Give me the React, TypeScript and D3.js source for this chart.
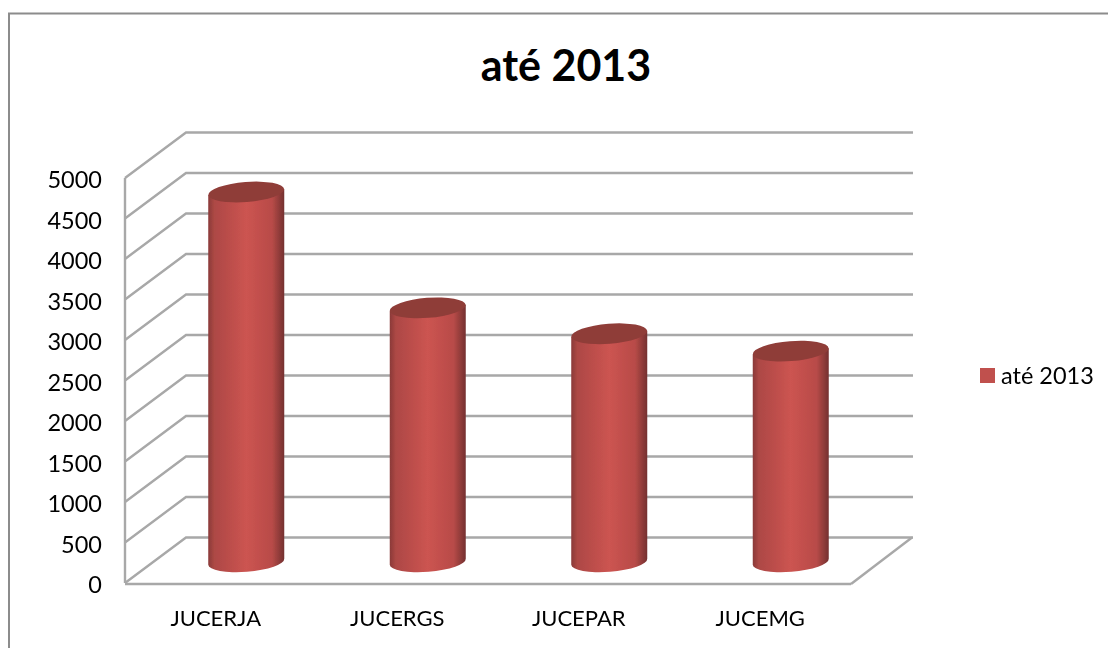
import React from "react";
import * as d3 from "d3";

const categories = ["JUCERJA", "JUCERGS", "JUCEPAR", "JUCEMG"];
const values = [4565, 3135, 2815, 2600];
const yTicks = [0, 500, 1000, 1500, 2000, 2500, 3000, 3500, 4000, 4500, 5000];
const seriesName = "até 2013";

const width = 1108;
const height = 648;

// front face of the 3D box, the back wall is offset by depth
const x0 = 125;
const x1 = 851;
const yBottom = 583;
const yTop = 178;
const depthX = 61;
const depthY = -45.5;

const xScale = d3.scaleBand<string>().domain(categories).range([x0, x1]);
const yFront = d3.scaleLinear().domain([0, 5000]).range([yBottom, yTop]);

const barWidth = 76;
const tilt = 6; // ellipse right side sits higher than the left

export default function App() {
  const grid = "#a8a8a8";
  const yMid = (v: number) => yFront(v) + depthY / 2 + 1.5;

  return (
    <svg width={width} height={height} style={{ position: "fixed", left: 0, top: 0, background: "#fff" }} fontFamily="Lato, Carlito, sans-serif">
      <defs>
        <linearGradient id="cyl" x1="0" x2="1" y1="0" y2="0">
          <stop offset="0%" stopColor="#8a3a38" />
          <stop offset="8%" stopColor="#ad4845" />
          <stop offset="50%" stopColor="#cc5451" />
          <stop offset="84%" stopColor="#b84b48" />
          <stop offset="100%" stopColor="#743130" />
        </linearGradient>
        <filter id="soft" x="-5%" y="-5%" width="110%" height="110%">
          <feGaussianBlur stdDeviation="0.7" />
        </filter>
      </defs>

      {/* chart frame */}
      <path d={`M9 ${height} V13.5 H${width}`} fill="none" stroke="#8c8c8c" strokeWidth={2} />

      {/* title */}
      <text x={566} y={81} textAnchor="middle" fontSize={43} fontWeight={700} fill="#000">{seriesName}</text>

      {/* walls */}
      <g stroke={grid} fill="none" strokeWidth={2.4} filter="url(#soft)">
        <line x1={x0} x2={x0} y1={yTop} y2={yBottom} />
        <line x1={x0} x2={x1} y1={yBottom + 1} y2={yBottom + 1} />
        <line x1={x1} x2={x1 + depthX} y1={yBottom + 1} y2={yBottom + depthY} />
        {yTicks.map((t) => (
          <path key={t} d={`M${x0} ${yFront(t)} L${x0 + depthX} ${yFront(t) + depthY} H${x1 + depthX + 1}`} />
        ))}
      </g>

      {/* cylinders */}
      <g filter="url(#soft)">
        {categories.map((c, i) => {
          const cx = xScale(c)! + xScale.bandwidth() / 2 + depthX / 2;
          const l = cx - barWidth / 2;
          const r = cx + barWidth / 2;
          const top = yMid(values[i]);
          const bot = yMid(0);
          const rx = barWidth / 2;
          const ry = 10;
          const rot = (-Math.atan2(tilt, barWidth) * 180) / Math.PI;
          return (
            <g key={c}>
              <path
                d={`M${l} ${top + tilt / 2} L${r} ${top - tilt / 2} L${r} ${bot - tilt / 2} A${rx} ${ry} ${rot} 0 1 ${l} ${bot + tilt / 2} Z`}
                fill="url(#cyl)"
              />
              <ellipse cx={cx} cy={top} rx={rx} ry={ry} transform={`rotate(${rot} ${cx} ${top})`} fill="#8f3c39" />
            </g>
          );
        })}
      </g>

      {/* y axis labels */}
      <g fontSize={23.5} fill="#000" textAnchor="end">
        {yTicks.map((t) => (
          <text key={t} x={102} y={yFront(t) + 10}>{t}</text>
        ))}
      </g>

      {/* x axis labels */}
      <g fontSize={22} fill="#000" textAnchor="middle">
        {categories.map((c) => (
          <text key={c} x={xScale(c)! + xScale.bandwidth() / 2} y={626}>{c}</text>
        ))}
      </g>

      {/* legend */}
      <rect x={980} y={368} width={15} height={15} fill="#c0504d" />
      <text x={1001} y={384} fontSize={23.5} fill="#000">{seriesName}</text>
    </svg>
  );
}
